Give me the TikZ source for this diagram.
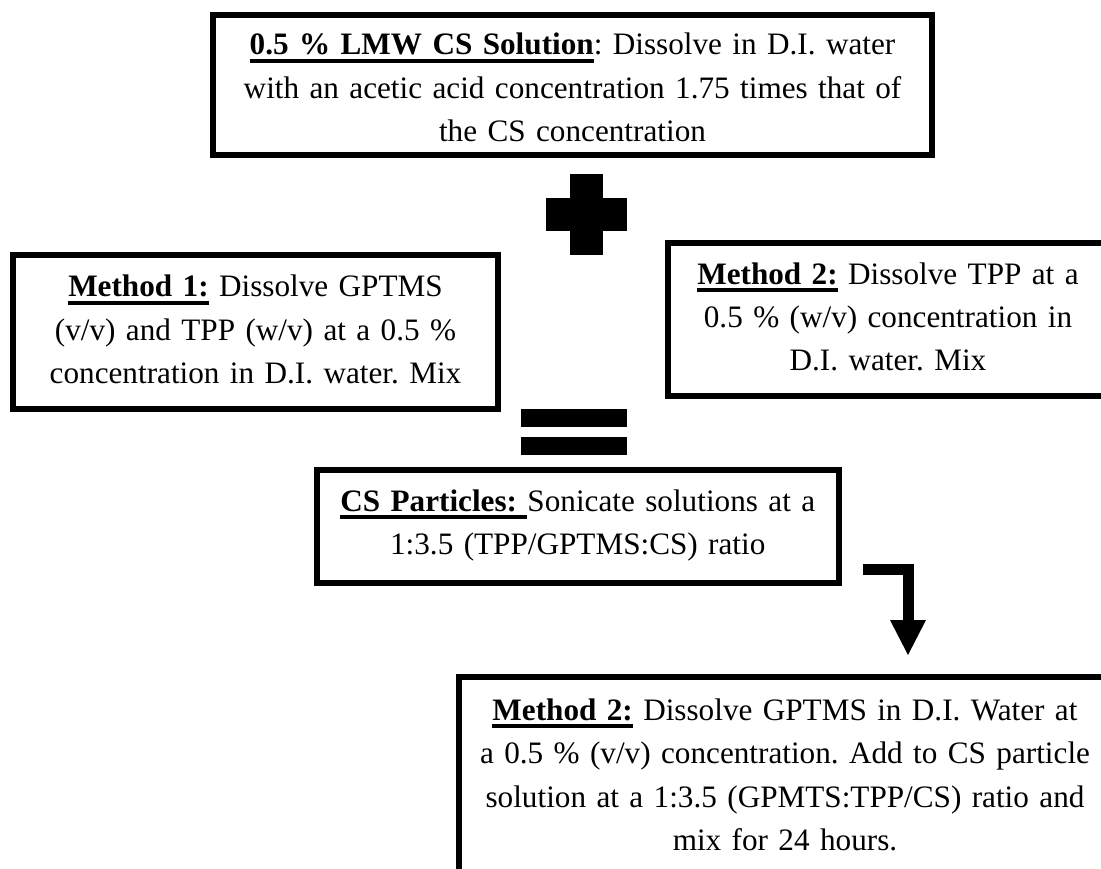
\documentclass[tikz,border=0pt]{standalone}
\usepackage{fontspec}
\setmainfont{Liberation Serif}
\usetikzlibrary{arrows.meta}
\hyphenpenalty=10000
\exhyphenpenalty=10000
\newsavebox{\hdbox}
\newcommand{\hd}[1]{\sbox{\hdbox}{\textbf{#1}}\rlap{\rule[-8pt]{\wd\hdbox}{3.8pt}}\usebox{\hdbox}}
\newcommand{\tp}[1]{\rule{0pt}{#1pt}}
\newcommand{\bt}[1]{\rule[-#1pt]{0pt}{#1pt}}
\begin{document}
\begin{tikzpicture}[x=1pt,y=-1pt,
  every node/.style={font=\fontsize{31.2}{43.5}\selectfont\frenchspacing},
  box/.style={draw=black, line width=6pt, rectangle, inner sep=0pt, outer sep=0pt,
              align=center, anchor=north west},
  bar/.style={fill=black}]
\useasboundingbox (0,0) rectangle (1101,869);
\clip (0,0) rectangle (1101,869);
\fill[white] (0,0) rectangle (1101,869);

\node[box, text width=719pt] (top) at (213,15)
  {\tp{40}\hd{0.5 \% LMW CS Solution}: Dissolve in D.I. water\\
   with an acetic acid concentration 1.75 times that of\\
   the CS concentration\bt{13}};

\node[box, text width=485pt] (m1) at (13,255)
  {\tp{42}\hd{Method 1:} Dissolve GPTMS\\
   (v/v) and TPP (w/v) at a 0.5 \%\\
   concentration in D.I. water. Mix\bt{25}};

\node[box, text width=440pt] (m2) at (668,243)
  {\tp{41}\hd{Method 2:} Dissolve TPP at a\\
   0.5 \% (w/v) concentration in\\
   D.I. water. Mix\bt{25}};

\node[box, text width=521.5pt] (cs) at (317,470)
  {\tp{41}\hd{CS Particles:\ }Sonicate solutions at a\\
   1:3.5 (TPP/GPTMS:CS) ratio\bt{28}};

\node[box, text width=652pt] (bot) at (459,677)
  {\tp{43}\hd{Method 2:} Dissolve GPTMS in D.I. Water at\\
   a 0.5 \% (v/v) concentration. Add to CS particle\\
   solution at a 1:3.5 (GPMTS:TPP/CS) ratio and\\
   mix for 24 hours.\bt{30}};

% plus sign
\fill[bar] (570,174) rectangle (603,255);
\fill[bar] (546,198) rectangle (627,231);
% equals sign
\fill[bar] (521,409) rectangle (627,427);
\fill[bar] (521,437) rectangle (627,455);
% bent arrow
\coordinate (as) at (863,569.5);
\coordinate (ae) at (908,655);
\draw[line width=11pt, -{Triangle[width=36pt,length=35pt,line width=0pt]}] (as) -| (ae);
\end{tikzpicture}
\end{document}
